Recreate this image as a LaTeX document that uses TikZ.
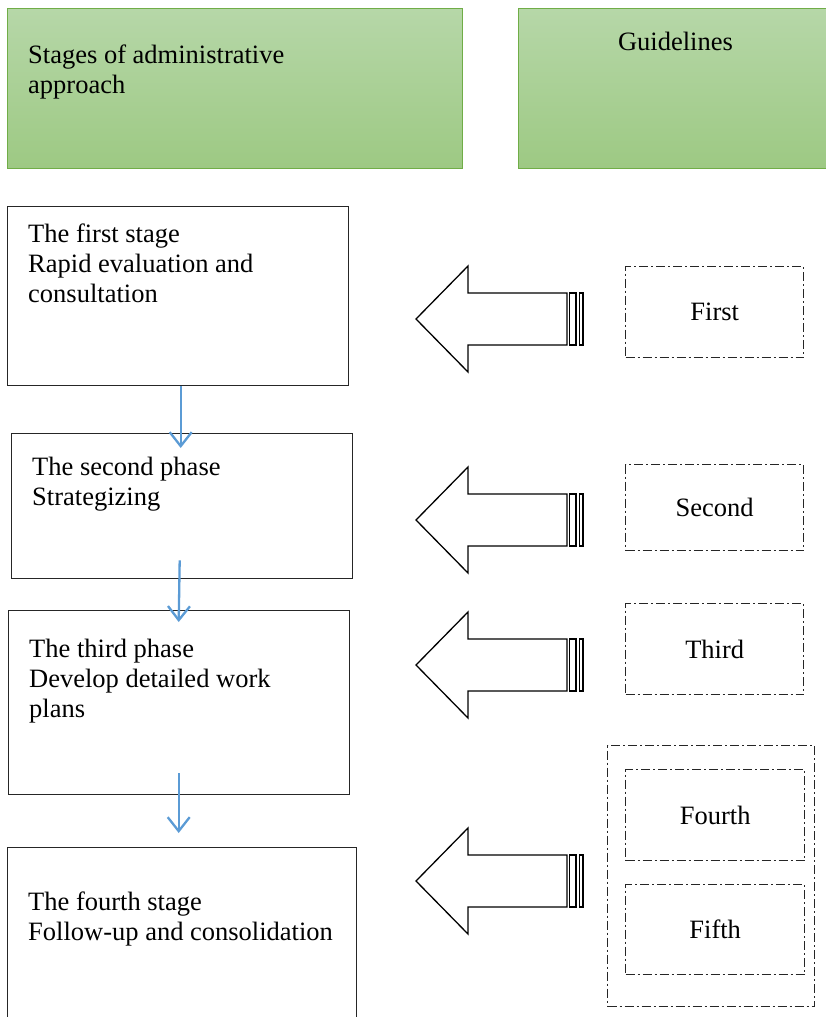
\documentclass[tikz,border=0pt]{standalone}
\usepackage{fontspec}
\setmainfont{Liberation Serif}
\usetikzlibrary{arrows.meta}

\definecolor{hdrTop}{RGB}{182,215,168}
\definecolor{hdrBot}{RGB}{157,201,131}
\definecolor{hdrLine}{RGB}{112,173,71}
\definecolor{flowBlue}{RGB}{91,155,213}

\tikzset{
  big/.style={font=\fontsize{26.5}{30}\selectfont},
  header/.style={draw=hdrLine, line width=1.3pt, top color=hdrTop, bottom color=hdrBot,
                 anchor=north west, inner sep=0pt},
  stagebox/.style={draw=black!85, line width=1.4pt, fill=white, anchor=north west, inner sep=0pt},
  stagetext/.style={big, anchor=north west, inner sep=0pt, align=left},
  guidebox/.style={draw=black!85, line width=1.4pt, dash pattern=on 9pt off 3pt on 2pt off 3pt,
                   anchor=north west, inner sep=0pt, big},
  flow/.style={draw=flowBlue, line width=2.3pt, -{Straight Barb[length=14pt,width=22pt,line width=2.3pt]}},
  blockarrow/.style={draw=black, line width=1.3pt, fill=white, line join=miter},
}

\begin{document}
\begin{tikzpicture}[x=1pt, y=-1pt]
\useasboundingbox (0,0) rectangle (825,1017);

% column headers
\node[header, minimum width=455pt, minimum height=160pt] (hdrL) at (7,8) {};
\node[header, minimum width=320pt, minimum height=160pt] (hdrR) at (518,8) {};
\node[stagetext] (hdrLtxt) at (28,42) {\strut Stages of administrative\\approach};
\node[big, anchor=base, inner sep=0pt] (hdrRtxt) at (675.5,50) {Guidelines};

% stage boxes
\node[stagebox, minimum width=341pt, minimum height=179pt] (s1) at (7,206) {};
\node[stagebox, minimum width=341pt, minimum height=145pt] (s2) at (11,433) {};
\node[stagebox, minimum width=341pt, minimum height=184pt] (s3) at (8,610) {};
\node[stagebox, minimum width=349pt, minimum height=190pt] (s4) at (7,847) {};

\node[stagetext] (s1txt) at (28,221) {\strut The first stage\\Rapid evaluation and\\consultation};
\node[stagetext] (s2txt) at (32,454) {\strut The second phase\\Strategizing};
\node[stagetext] (s3txt) at (29,636) {\strut The third phase\\Develop detailed work\\plans};
\node[stagetext] (s4txt) at (28,889) {\strut The fourth stage\\Follow-up and consolidation};

% flow between stages
\draw[flow] ([xshift=2.5pt]s1.south) -- ([xshift=-1.5pt,yshift=-15pt]s2.north);
\draw[flow] ([xshift=-2.5pt,yshift=19pt]s2.south) -- ([xshift=-0.5pt,yshift=-12pt]s3.north);
\draw[flow] ([xshift=-0.5pt,yshift=22pt]s3.south) -- ([xshift=-3.5pt,yshift=14pt]s4.north);

% guideline boxes
\node[guidebox, minimum width=178pt, minimum height=91pt] (g1) at (625,266) {First};
\node[guidebox, minimum width=178pt, minimum height=86pt] (g2) at (625,464) {Second};
\node[guidebox, minimum width=178pt, minimum height=91pt] (g3) at (625,603) {Third};
\node[guidebox, minimum width=207pt, minimum height=261pt] (g45) at (607,745) {};
\node[guidebox, minimum width=179pt, minimum height=91pt] (g4) at (625,769) {Fourth};
\node[guidebox, minimum width=179pt, minimum height=90pt] (g5) at (625,884) {Fifth};

% striped block arrows pointing to the stages
\foreach \cy in {319,520,665,881}{
  \draw[blockarrow] (416,\cy) -- (468,\cy-53) -- (468,\cy-26) -- (567,\cy-26)
        -- (567,\cy+26) -- (468,\cy+26) -- (468,\cy+53) -- cycle;
  \draw[blockarrow] (569.5,\cy-26) rectangle (576,\cy+26);
  \draw[blockarrow] (579.5,\cy-26) rectangle (583,\cy+26);
}
\end{tikzpicture}
\end{document}
